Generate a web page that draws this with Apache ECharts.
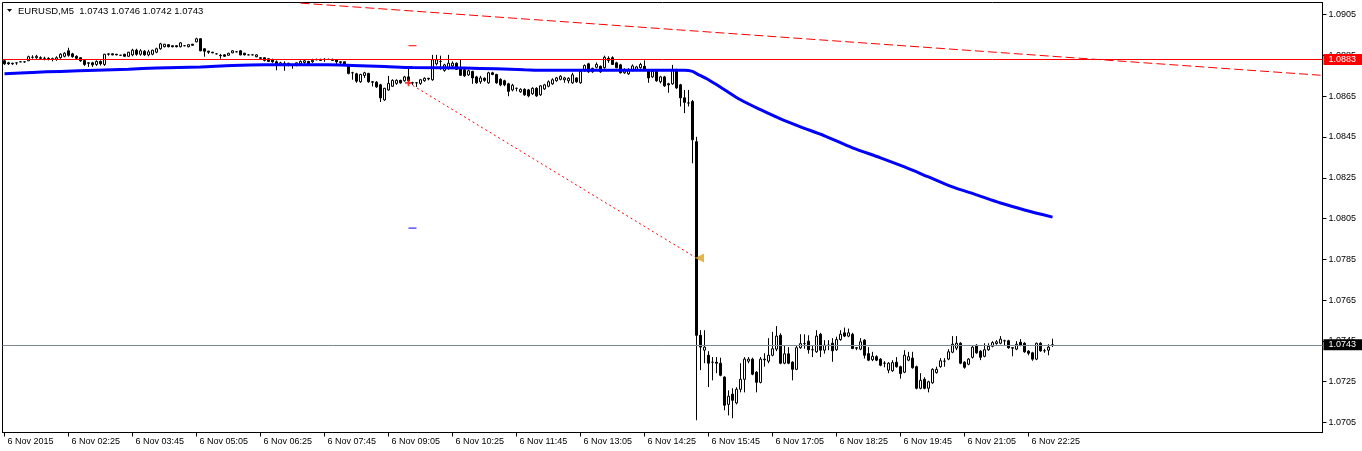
<!DOCTYPE html>
<html><head><meta charset="utf-8">
<script src="https://cdn.jsdelivr.net/npm/echarts@6/dist/echarts.min.js"></script>
<style>html,body{margin:0;padding:0;background:#fff}#c{width:1362px;height:451px}</style>
</head><body><div id="c"></div>
<script>
const symbolTitle = 'EURUSD,M5';
const lastQuote = [1.0743, 1.0746, 1.0742, 1.0743];
const firstBarMinutes = 65;       // first bar 01:05
const slotCount = 330;            // bars + empty right margin
const labelEvery = 16;
const firstLabel = '6 Nov 2015';
const dayPrefix = '6 Nov ';
const categories = [];
for (let i = 0; i < slotCount; i++) {
  const m = (firstBarMinutes + 5 * i) % 1440;
  categories.push(String(Math.floor(m / 60)).padStart(2, '0') + ':' + String(m % 60).padStart(2, '0'));
}
const yTicks = [1.0705, 1.0725, 1.0745, 1.0765, 1.0785, 1.0805, 1.0825, 1.0845, 1.0865, 1.0885, 1.0905];
// [open, close, low, high]
const candles = [
[1.08824,1.08809,1.08804,1.08829],[1.08814,1.08809,1.08804,1.08819],[1.08812,1.08809,1.08804,1.08814],[1.08814,1.08814,1.08804,1.08814],
[1.08819,1.08819,1.08817,1.08821],[1.08819,1.08819,1.08814,1.08821],[1.08824,1.08844,1.08824,1.08849],[1.08841,1.08841,1.08834,1.08851],
[1.08839,1.08846,1.08834,1.08853],[1.08839,1.08836,1.08829,1.08846],[1.08836,1.08836,1.08826,1.08844],[1.08836,1.08834,1.08826,1.08841],
[1.08834,1.08831,1.08821,1.08839],[1.08831,1.08839,1.08824,1.08846],[1.08839,1.08856,1.08834,1.08861],[1.08846,1.08861,1.08841,1.08866],
[1.08873,1.08851,1.08844,1.08888],[1.08858,1.08844,1.08839,1.08863],[1.08846,1.08836,1.08829,1.08851],[1.08839,1.08824,1.08819,1.08841],
[1.08826,1.08806,1.08799,1.08829],[1.08814,1.08812,1.08794,1.08816],[1.08814,1.08804,1.08794,1.08819],[1.08806,1.08821,1.08799,1.08826],
[1.08821,1.08809,1.08801,1.08826],[1.08806,1.08856,1.08799,1.08858],[1.08856,1.08858,1.08849,1.08861],[1.08858,1.08853,1.08851,1.08861],
[1.08856,1.08853,1.08851,1.08858],[1.08851,1.08851,1.08849,1.08853],[1.08856,1.08846,1.08844,1.08858],[1.08846,1.08866,1.08844,1.08868],
[1.08853,1.08876,1.08846,1.08883],[1.08876,1.08856,1.08849,1.08883],[1.08856,1.08873,1.08849,1.08881],[1.08871,1.08853,1.08849,1.08876],
[1.08853,1.08868,1.08846,1.08878],[1.08856,1.08876,1.08851,1.08878],[1.08866,1.08883,1.08861,1.08888],[1.08883,1.08907,1.08878,1.08912],
[1.08893,1.08905,1.08890,1.08907],[1.08903,1.08893,1.08890,1.08905],[1.08898,1.08893,1.08890,1.08900],[1.08898,1.08893,1.08890,1.08900],
[1.08893,1.08912,1.08890,1.08915],[1.08898,1.08898,1.08895,1.08900],[1.08893,1.08903,1.08890,1.08905],[1.08905,1.08900,1.08898,1.08907],
[1.08917,1.08932,1.08915,1.08937],[1.08932,1.08873,1.08871,1.08935],[1.08883,1.08871,1.08844,1.08885],[1.08871,1.08866,1.08858,1.08873],
[1.08866,1.08863,1.08861,1.08868],[1.08858,1.08858,1.08856,1.08861],[1.08851,1.08849,1.08834,1.08858],[1.08853,1.08846,1.08844,1.08856],
[1.08851,1.08861,1.08849,1.08863],[1.08863,1.08873,1.08861,1.08876],[1.08868,1.08868,1.08866,1.08871],[1.08873,1.08853,1.08851,1.08876],
[1.08861,1.08853,1.08851,1.08863],[1.08853,1.08853,1.08851,1.08856],[1.08853,1.08853,1.08851,1.08856],[1.08844,1.08853,1.08841,1.08856],
[1.08839,1.08836,1.08831,1.08841],[1.08839,1.08826,1.08821,1.08841],[1.08834,1.08821,1.08819,1.08836],[1.08831,1.08819,1.08814,1.08834],
[1.08819,1.08806,1.08777,1.08826],[1.08806,1.08814,1.08799,1.08819],[1.08809,1.08812,1.08775,1.08821],[1.08812,1.08801,1.08797,1.08814],
[1.08806,1.08804,1.08785,1.08809],[1.08801,1.08814,1.08797,1.08816],[1.08809,1.08821,1.08801,1.08826],[1.08816,1.08824,1.08809,1.08829],
[1.08821,1.08806,1.08799,1.08824],[1.08819,1.08826,1.08814,1.08834],[1.08831,1.08829,1.08826,1.08834],[1.08831,1.08826,1.08824,1.08834],
[1.08831,1.08831,1.08819,1.08836],[1.08831,1.08831,1.08829,1.08834],[1.08831,1.08826,1.08824,1.08834],[1.08829,1.08819,1.08804,1.08831],
[1.08819,1.08816,1.08804,1.08821],[1.08819,1.08806,1.08804,1.08821],[1.08797,1.08762,1.08757,1.08801],[1.08765,1.08765,1.08731,1.08770],
[1.08760,1.08724,1.08716,1.08765],[1.08721,1.08757,1.08716,1.08760],[1.08752,1.08765,1.08740,1.08770],[1.08762,1.08721,1.08716,1.08765],
[1.08721,1.08719,1.08698,1.08724],[1.08719,1.08696,1.08691,1.08724],[1.08706,1.08642,1.08622,1.08711],[1.08632,1.08689,1.08627,1.08691],
[1.08681,1.08713,1.08677,1.08750],[1.08699,1.08728,1.08696,1.08733],[1.08713,1.08728,1.08706,1.08733],[1.08728,1.08716,1.08711,1.08731],
[1.08726,1.08745,1.08721,1.08750],[1.08745,1.08726,1.08721,1.08785],[1.08716,1.08716,1.08706,1.08721],[1.08716,1.08716,1.08696,1.08719],
[1.08713,1.08731,1.08706,1.08735],[1.08726,1.08738,1.08721,1.08743],[1.08738,1.08735,1.08728,1.08740],[1.08731,1.08829,1.08726,1.08853],
[1.08809,1.08829,1.08801,1.08853],[1.08821,1.08821,1.08780,1.08849],[1.08777,1.08804,1.08770,1.08809],[1.08789,1.08812,1.08780,1.08853],
[1.08799,1.08812,1.08785,1.08821],[1.08812,1.08782,1.08780,1.08816],[1.08787,1.08753,1.08750,1.08829],[1.08780,1.08750,1.08745,1.08785],
[1.08755,1.08775,1.08750,1.08780],[1.08772,1.08740,1.08711,1.08775],[1.08745,1.08716,1.08711,1.08750],[1.08721,1.08740,1.08711,1.08750],
[1.08738,1.08728,1.08721,1.08743],[1.08716,1.08765,1.08711,1.08770],[1.08765,1.08757,1.08753,1.08770],[1.08757,1.08716,1.08711,1.08760],
[1.08733,1.08706,1.08699,1.08738],[1.08726,1.08706,1.08699,1.08731],[1.08711,1.08674,1.08650,1.08716],[1.08681,1.08704,1.08674,1.08711],
[1.08689,1.08689,1.08674,1.08691],[1.08672,1.08684,1.08667,1.08689],[1.08684,1.08657,1.08652,1.08689],[1.08681,1.08652,1.08645,1.08686],
[1.08662,1.08689,1.08657,1.08694],[1.08689,1.08652,1.08647,1.08694],[1.08657,1.08701,1.08652,1.08704],[1.08686,1.08706,1.08681,1.08711],
[1.08699,1.08721,1.08694,1.08728],[1.08711,1.08731,1.08706,1.08738],[1.08726,1.08740,1.08721,1.08745],[1.08733,1.08748,1.08728,1.08753],
[1.08731,1.08740,1.08716,1.08745],[1.08726,1.08738,1.08713,1.08743],[1.08716,1.08755,1.08711,1.08765],[1.08740,1.08721,1.08716,1.08743],
[1.08716,1.08772,1.08711,1.08777],[1.08775,1.08801,1.08770,1.08806],[1.08809,1.08770,1.08765,1.08814],[1.08770,1.08787,1.08765,1.08790],
[1.08792,1.08806,1.08787,1.08816],[1.08797,1.08770,1.08765,1.08801],[1.08790,1.08841,1.08785,1.08849],[1.08836,1.08826,1.08814,1.08846],
[1.08839,1.08806,1.08804,1.08846],[1.08814,1.08790,1.08787,1.08819],[1.08804,1.08765,1.08762,1.08809],[1.08765,1.08782,1.08760,1.08787],
[1.08760,1.08782,1.08755,1.08787],[1.08777,1.08799,1.08772,1.08806],[1.08780,1.08794,1.08775,1.08799],[1.08790,1.08806,1.08785,1.08814],
[1.08797,1.08780,1.08775,1.08826],[1.08775,1.08740,1.08716,1.08780],[1.08745,1.08772,1.08740,1.08780],[1.08772,1.08726,1.08721,1.08777],
[1.08721,1.08745,1.08713,1.08750],[1.08745,1.08701,1.08696,1.08750],[1.08711,1.08706,1.08667,1.08716],[1.08711,1.08780,1.08706,1.08804],
[1.08780,1.08691,1.08686,1.08785],[1.08706,1.08642,1.08600,1.08711],[1.08642,1.08620,1.08567,1.08681],[1.08617,1.08617,1.08600,1.08681],
[1.08624,1.08436,1.08321,1.08632],[1.08427,1.07477,1.07060,1.08451],[1.07477,1.07419,1.07306,1.07502],[1.07404,1.07419,1.07340,1.07502],
[1.07379,1.07340,1.07223,1.07399],[1.07345,1.07345,1.07256,1.07370],[1.07345,1.07340,1.07291,1.07370],[1.07340,1.07281,1.07276,1.07367],
[1.07272,1.07134,1.07109,1.07276],[1.07138,1.07178,1.07084,1.07207],[1.07188,1.07158,1.07070,1.07217],[1.07145,1.07212,1.07138,1.07222],
[1.07212,1.07261,1.07197,1.07340],[1.07261,1.07360,1.07197,1.07370],[1.07350,1.07360,1.07340,1.07370],[1.07360,1.07286,1.07281,1.07367],
[1.07296,1.07246,1.07197,1.07301],[1.07246,1.07360,1.07241,1.07370],[1.07360,1.07357,1.07323,1.07389],[1.07350,1.07379,1.07340,1.07463],
[1.07379,1.07411,1.07374,1.07494],[1.07409,1.07473,1.07399,1.07522],[1.07477,1.07340,1.07335,1.07487],[1.07340,1.07386,1.07335,1.07428],
[1.07386,1.07340,1.07335,1.07419],[1.07345,1.07310,1.07256,1.07350],[1.07310,1.07416,1.07306,1.07428],[1.07416,1.07436,1.07411,1.07482],
[1.07436,1.07436,1.07411,1.07482],[1.07448,1.07406,1.07387,1.07477],[1.07406,1.07406,1.07370,1.07428],[1.07396,1.07473,1.07391,1.07502],
[1.07482,1.07404,1.07370,1.07489],[1.07404,1.07428,1.07387,1.07453],[1.07428,1.07428,1.07404,1.07453],[1.07438,1.07401,1.07347,1.07463],
[1.07406,1.07456,1.07401,1.07470],[1.07456,1.07482,1.07450,1.07502],[1.07489,1.07473,1.07468,1.07515],[1.07473,1.07489,1.07468,1.07510],
[1.07482,1.07412,1.07409,1.07489],[1.07416,1.07414,1.07404,1.07419],[1.07409,1.07445,1.07404,1.07463],[1.07453,1.07379,1.07363,1.07458],
[1.07387,1.07355,1.07350,1.07419],[1.07357,1.07374,1.07350,1.07396],[1.07372,1.07355,1.07350,1.07379],[1.07360,1.07330,1.07325,1.07365],
[1.07340,1.07340,1.07320,1.07350],[1.07306,1.07340,1.07291,1.07345],[1.07303,1.07343,1.07298,1.07355],[1.07345,1.07323,1.07318,1.07370],
[1.07323,1.07289,1.07264,1.07328],[1.07296,1.07379,1.07291,1.07404],[1.07355,1.07372,1.07350,1.07396],[1.07365,1.07318,1.07313,1.07396],
[1.07323,1.07217,1.07212,1.07328],[1.07217,1.07256,1.07212,1.07291],[1.07261,1.07217,1.07212,1.07271],[1.07217,1.07249,1.07197,1.07254],
[1.07244,1.07310,1.07239,1.07315],[1.07294,1.07310,1.07289,1.07323],[1.07323,1.07352,1.07318,1.07365],[1.07350,1.07350,1.07323,1.07365],
[1.07360,1.07396,1.07355,1.07409],[1.07394,1.07433,1.07389,1.07473],[1.07414,1.07438,1.07404,1.07473],[1.07438,1.07340,1.07335,1.07443],
[1.07345,1.07320,1.07313,1.07350],[1.07335,1.07360,1.07330,1.07365],[1.07369,1.07419,1.07363,1.07428],[1.07428,1.07391,1.07386,1.07433],
[1.07399,1.07369,1.07355,1.07404],[1.07374,1.07406,1.07369,1.07438],[1.07406,1.07423,1.07401,1.07438],[1.07423,1.07441,1.07418,1.07448],
[1.07436,1.07445,1.07431,1.07453],[1.07438,1.07458,1.07433,1.07473],[1.07450,1.07450,1.07428,1.07455],[1.07450,1.07416,1.07411,1.07455],
[1.07416,1.07414,1.07374,1.07419],[1.07409,1.07433,1.07404,1.07448],[1.07443,1.07428,1.07423,1.07458],[1.07438,1.07396,1.07391,1.07443],
[1.07399,1.07389,1.07379,1.07404],[1.07391,1.07360,1.07352,1.07396],[1.07360,1.07438,1.07355,1.07441],[1.07438,1.07401,1.07396,1.07443],
[1.07401,1.07401,1.07391,1.07411],[1.07404,1.07419,1.07379,1.07433],[1.0743,1.0743,1.0742,1.0746]
];
// moving average read at selected bars: [barIndex, value]
const maPoints = [
[0,1.08760],[7,1.08767],[14,1.08772],[23,1.08778],[31,1.08783],[38,1.08788],[49,1.08794],[57,1.08801],[65,1.08804],
[81,1.08804],[87,1.08801],[95,1.08796],[102,1.08791],[115,1.08788],[123,1.08785],[130,1.08780],[135,1.08777],[170,1.08777],
[172,1.08772],[173,1.08761],[176,1.08731],[180,1.08682],[184,1.08633],[189,1.08584],[194,1.08539],[199,1.08500],[205,1.08456],
[212,1.08397],[219,1.08348],[225,1.08303],[231,1.08254],[237,1.08205],[243,1.08166],[249,1.08126],[255,1.08092],[262,1.08057]
];
const priceLevel = 1.0883;
const bidLevel = 1.0743;
const trendLine = [[74, 1.09107], [329, 1.08753]];
const tradeLine = [[101, 1.08716], [173, 1.07856]];
const stopLoss = [[101, 1.08898], [103, 1.08898]];
const takeProfit = [[101, 1.08003], [103, 1.08003]];

const FONT = 'Liberation Sans, Arial, sans-serif';
const chart = echarts.init(document.getElementById('c'), null, {renderer: 'canvas'});
const showLabel = (i) => i % labelEvery === 0 && i < candles.length;
const priceTag = (v, bg) => ({
  show: true, position: 'end', distance: 1, formatter: v.toFixed(4),
  color: '#fff', backgroundColor: bg, padding: [1, 7, 0, 5],
  fontFamily: FONT, fontSize: 9, lineHeight: 10
});
chart.setOption({
  animation: false,
  backgroundColor: '#fff',
  grid: {left: 2.5, right: 39.5, top: 2.5, bottom: 18.5, show: true, borderColor: '#000', borderWidth: 1, backgroundColor: 'transparent'},
  xAxis: {
    type: 'category', data: categories, boundaryGap: true,
    axisLine: {show: true, lineStyle: {color: '#000', width: 1}},
    axisTick: {show: true, alignWithLabel: true, interval: showLabel, length: 4, lineStyle: {color: '#000'}},
    axisLabel: {
      show: true, interval: showLabel, align: 'left', margin: 5, padding: [0, 0, 0, 3],
      color: '#000', fontFamily: FONT, fontSize: 9,
      formatter: (v, i) => i === 0 ? firstLabel : dayPrefix + v
    },
    splitLine: {show: false}
  },
  yAxis: {
    type: 'value', position: 'right', min: 1.0700, max: 1.0911, scale: true,
    axisLine: {show: true, lineStyle: {color: '#000'}},
    axisTick: {show: true, inside: false, length: 4, customValues: yTicks, lineStyle: {color: '#000'}},
    axisLabel: {show: true, customValues: yTicks, margin: 6, color: '#000', fontFamily: FONT, fontSize: 9,
      formatter: v => v.toFixed(4)},
    splitLine: {show: false}
  },
  series: [
    {
      type: 'candlestick', data: candles, barWidth: 3,
      itemStyle: {color: '#ffffff', color0: '#000000', borderColor: '#000000', borderColor0: '#000000', borderWidth: 1},
      z: 2
    },
    {type: 'line', data: maPoints, symbol: 'none', smooth: 0.3, lineStyle: {color: '#0000ff', width: 3}, z: 3},
    {type: 'line', data: trendLine, symbol: 'none', clip: true, lineStyle: {color: '#ff0000', width: 1, type: [9, 4]}, z: 3,
      markLine: {
        silent: true, symbol: 'none', animation: false, precision: 5,
        data: [
          {yAxis: priceLevel, lineStyle: {color: '#ff0000', width: 1, type: 'solid'}, label: priceTag(priceLevel, '#ff0000')},
          {yAxis: bidLevel, lineStyle: {color: '#778899', width: 1, type: 'solid'}, label: priceTag(bidLevel, '#000000')}
        ]
      }
    },
    {type: 'line', data: tradeLine, symbol: 'none', lineStyle: {color: '#ff0000', width: 1, type: [2, 3]}, z: 3},
    {type: 'line', data: stopLoss, symbol: 'none', lineStyle: {color: '#ff0000', width: 1}, z: 3},
    {type: 'line', data: takeProfit, symbol: 'none', lineStyle: {color: '#0000ff', width: 1}, z: 3},
    {type: 'scatter', data: [tradeLine[0]], symbol: 'path://M3,0H5V3H8V5H5V8H3V5H0V3H3Z', symbolSize: 7,
      itemStyle: {color: '#ff0000'}, z: 4},
    {type: 'scatter', data: [tradeLine[1]], symbol: 'triangle', symbolRotate: 90, symbolSize: [9, 9], symbolOffset: [3, 0],
      itemStyle: {color: '#daa520'}, z: 4}
  ],
  graphic: [
    {type: 'polygon', shape: {points: [[7, 9], [12, 9], [9.5, 12]]}, style: {fill: '#000'}},
    {type: 'text', x: 18, y: 11, style: {text: symbolTitle + '  ' + lastQuote.map(v => v.toFixed(4)).join(' '),
      fill: '#000', font: '9.5px ' + FONT, verticalAlign: 'middle'}}
  ]
});
</script>
</body></html>
